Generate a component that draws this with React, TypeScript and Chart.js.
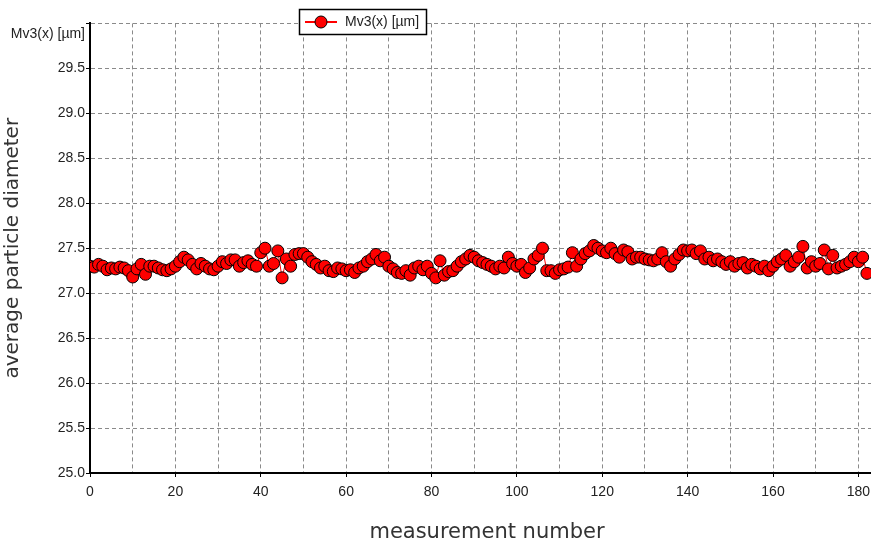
import React, { useEffect, useRef } from 'react';
import { Chart, registerables } from 'chart.js';

Chart.register(...registerables);

const seriesLabel = 'Mv3(x) [µm]';
const yAxisTitle = 'average particle diameter';
const xAxisTitle = 'measurement number';
const yTopLabel = 'Mv3(x) [µm]';

// Mv3(x) values, one per measurement number starting at 0
const mv3Values = [
  27.30, 27.29, 27.32, 27.30, 27.26, 27.28, 27.27, 27.29, 27.28, 27.25,
  27.18, 27.27, 27.32, 27.21, 27.30, 27.30, 27.28, 27.26, 27.25, 27.27,
  27.30, 27.35, 27.40, 27.37, 27.32, 27.27, 27.33, 27.30, 27.27, 27.26,
  27.30, 27.35, 27.33, 27.37, 27.37, 27.30, 27.34, 27.36, 27.32, 27.30,
  27.45, 27.50, 27.30, 27.33, 27.47, 27.17, 27.38, 27.30, 27.43, 27.44,
  27.44, 27.40, 27.35, 27.32, 27.28, 27.30, 27.25, 27.24, 27.28, 27.27,
  27.25, 27.26, 27.23, 27.28, 27.30, 27.35, 27.38, 27.43, 27.36, 27.40,
  27.30, 27.27, 27.23, 27.22, 27.25, 27.20, 27.28, 27.30, 27.26, 27.30,
  27.22, 27.17, 27.36, 27.20, 27.24, 27.25, 27.30, 27.35, 27.38, 27.42,
  27.40, 27.36, 27.34, 27.32, 27.30, 27.27, 27.30, 27.28, 27.40, 27.33,
  27.30, 27.32, 27.23, 27.28, 27.38, 27.42, 27.50, 27.25, 27.25, 27.22,
  27.26, 27.27, 27.29, 27.45, 27.30, 27.38, 27.44, 27.47, 27.53, 27.50,
  27.47, 27.45, 27.50, 27.44, 27.40, 27.48, 27.46, 27.38, 27.40, 27.40,
  27.38, 27.37, 27.36, 27.38, 27.45, 27.35, 27.30, 27.38, 27.43, 27.48,
  27.47, 27.48, 27.44, 27.47, 27.38, 27.40, 27.36, 27.38, 27.35, 27.32,
  27.35, 27.30, 27.33, 27.34, 27.28, 27.32, 27.30, 27.27, 27.30, 27.25,
  27.30, 27.35, 27.38, 27.42, 27.30, 27.35, 27.40, 27.52, 27.28, 27.35,
  27.30, 27.33, 27.48, 27.27, 27.42, 27.28, 27.30, 27.32, 27.35, 27.40,
  27.35, 27.40, 27.22,
];

const xMin = 0;
const xMax = 186;
const xStep = 10;
const xLabelEvery = 20;
const yMin = 25;
const yMax = 30;
const yStep = 0.5;

const TICK_FONT = 'Liberation Sans, Arial, sans-serif';
const TITLE_FONT = 'DejaVu Sans, Verdana, sans-serif';

const boxLegend = {
  id: 'boxLegend',
  afterDraw(chart: any) {
    const ctx = chart.ctx as CanvasRenderingContext2D;
    const ds = chart.data.datasets[0];
    ctx.save();
    ctx.fillStyle = '#ffffff';
    ctx.fillRect(299, 9, 128, 26);
    ctx.strokeStyle = '#000000';
    ctx.lineWidth = 1.5;
    ctx.strokeRect(299.5, 9.5, 127, 25);
    ctx.strokeStyle = ds.borderColor;
    ctx.lineWidth = 2;
    ctx.beginPath();
    ctx.moveTo(305, 22);
    ctx.lineTo(337, 22);
    ctx.stroke();
    ctx.beginPath();
    ctx.arc(321, 22, 6, 0, Math.PI * 2);
    ctx.fillStyle = ds.pointBackgroundColor;
    ctx.fill();
    ctx.strokeStyle = ds.pointBorderColor;
    ctx.lineWidth = 1;
    ctx.stroke();
    ctx.fillStyle = '#222222';
    ctx.font = `14px ${TICK_FONT}`;
    ctx.textBaseline = 'middle';
    ctx.textAlign = 'left';
    ctx.fillText(ds.label, 345, 22);
    ctx.restore();
  },
};

export default function App() {
  const canvasRef = useRef<HTMLCanvasElement | null>(null);

  useEffect(() => {
    const canvas = canvasRef.current;
    if (!canvas) return;
    const points = mv3Values.map((v, i) => ({ x: i, y: v }));
    const chart = new Chart(canvas, {
      type: 'line',
      data: {
        datasets: [
          {
            label: seriesLabel,
            data: points,
            borderColor: '#ff0000',
            borderWidth: 1,
            pointBackgroundColor: '#ff0000',
            pointBorderColor: '#000000',
            pointBorderWidth: 1,
            pointRadius: 6,
            pointStyle: 'circle',
            tension: 0,
          } as any,
        ],
      },
      options: {
        responsive: false,
        animation: false,
        devicePixelRatio: 1,
        layout: { padding: { top: 23, left: 0, right: 0, bottom: 0 } },
        plugins: {
          legend: { display: false },
          tooltip: { enabled: false },
        },
        scales: {
          x: {
            type: 'linear',
            min: xMin,
            max: xMax,
            afterBuildTicks: (scale: any) => {
              scale.ticks = scale.ticks.filter((t: any) => t.value % xStep === 0);
            },
            afterFit: (scale: any) => {
              scale.height = 72;
            },
            ticks: {
              stepSize: xStep,
              includeBounds: false,
              autoSkip: false,
              maxRotation: 0,
              padding: 7,
              color: '#222222',
              font: { family: TICK_FONT, size: 14 },
              callback: (v: any) => (Number(v) % xLabelEvery === 0 ? String(v) : ''),
            },
            grid: {
              color: '#8a8a8a',
              lineWidth: 1,
              drawTicks: true,
              tickLength: 4,
              tickWidth: 1,
              tickBorderDash: [],
              tickColor: (c: any) =>
                c.tick && c.tick.value % xLabelEvery === 0 ? '#000000' : 'rgba(0,0,0,0)',
            },
            border: { display: true, color: '#000000', width: 2, dash: [4, 3] },
            title: {
              display: true,
              text: xAxisTitle,
              color: '#333333',
              font: { family: TITLE_FONT, size: 21 },
              padding: { top: 0, bottom: 0 },
            },
          },
          y: {
            type: 'linear',
            min: yMin,
            max: yMax,
            afterFit: (scale: any) => {
              scale.width = 90;
            },
            ticks: {
              stepSize: yStep,
              autoSkip: false,
              padding: 1,
              color: '#222222',
              font: (c: any) =>
                c.tick && c.tick.value === yMax
                  ? { family: TICK_FONT, size: 14, lineHeight: 1.6 }
                  : { family: TICK_FONT, size: 14 },
              callback: (v: any) => (Number(v) === yMax ? ['', yTopLabel] : Number(v).toFixed(1)),
            },
            grid: {
              color: '#8a8a8a',
              lineWidth: 1,
              drawTicks: true,
              tickLength: 4,
              tickWidth: 1,
              tickBorderDash: [],
              tickColor: '#000000',
            },
            border: { display: true, color: '#000000', width: 2, dash: [4, 3] },
            title: {
              display: true,
              text: yAxisTitle,
              color: '#333333',
              font: { family: TITLE_FONT, size: 20 },
              padding: { top: 1, bottom: 0 },
            },
          },
        },
      } as any,
      plugins: [boxLegend],
    });
    return () => chart.destroy();
  }, []);

  return (
    <div
      style={{
        position: 'fixed',
        left: 0,
        top: 0,
        width: 871,
        height: 545,
        overflow: 'hidden',
        background: '#ffffff',
      }}
    >
      <canvas
        ref={canvasRef}
        width={891}
        height={545}
        style={{ width: 891, height: 545, display: 'block' }}
      />
    </div>
  );
}
